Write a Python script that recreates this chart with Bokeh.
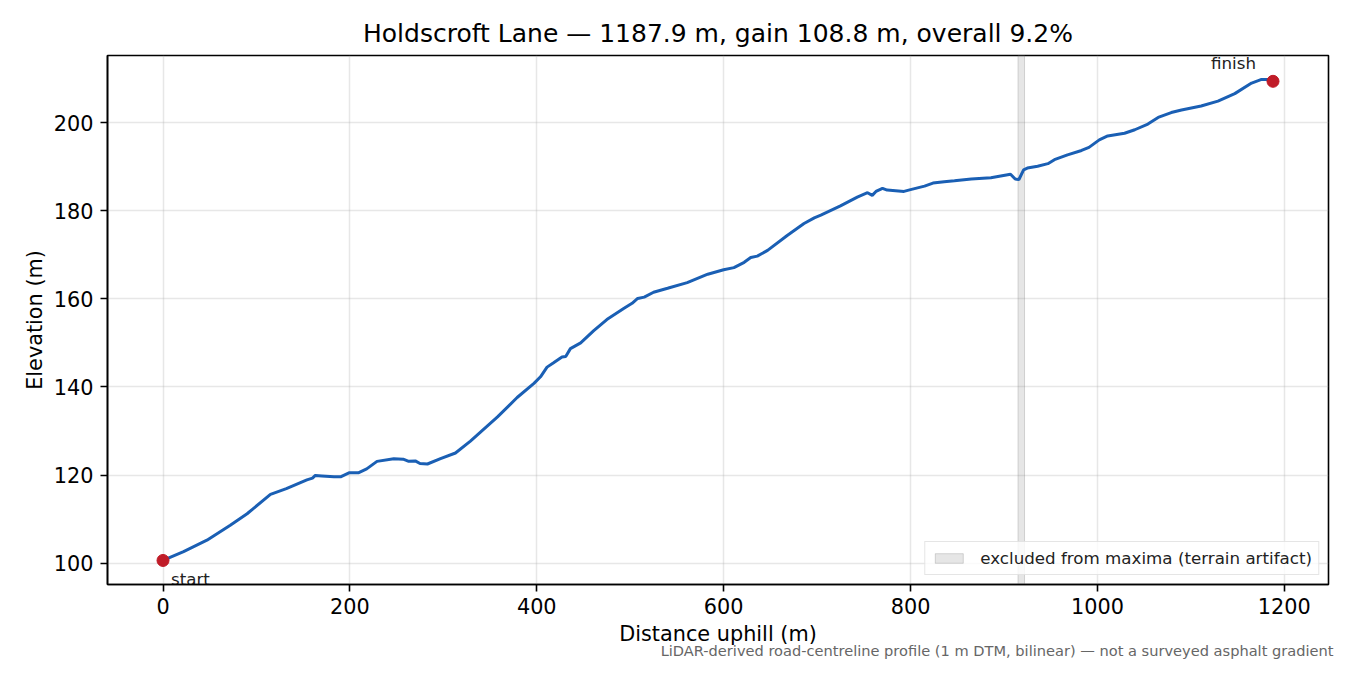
import numpy as np
from bokeh.plotting import figure
from bokeh.models import ColumnDataSource, Range1d, FixedTicker, Legend, LegendItem, Title
from bokeh.core.properties import value
from bokeh.embed import file_html
from bokeh.resources import INLINE

# profile (distance uphill m, elevation m)
distance = [0, 22, 47, 72, 90, 115, 132, 154, 160, 163, 170, 183, 190, 199, 209,
            218, 229, 247, 257, 263, 270, 275, 283, 297, 313, 329, 358, 379, 397,
            404, 411, 418, 427, 431, 436, 447, 461, 475, 493, 502, 508, 515, 525,
            540, 561, 583, 600, 611, 622, 629, 636, 647, 668, 686, 697, 704, 725,
            743, 754, 759, 763, 770, 775, 793, 800, 815, 824, 836, 847, 865, 886,
            907, 912, 916, 921, 925, 936, 947, 954, 968, 983, 991, 1002, 1011,
            1029, 1040, 1054, 1065, 1079, 1090, 1111, 1129, 1147, 1165, 1175,
            1182, 1187.9]
elevation = [100.6, 102.6, 105.2, 108.6, 111.2, 115.6, 116.9, 118.9, 119.3, 119.9,
             119.8, 119.6, 119.6, 120.5, 120.5, 121.4, 123.1, 123.7, 123.6, 123.1,
             123.2, 122.6, 122.5, 123.7, 125.0, 127.7, 133.2, 137.6, 140.8, 142.3,
             144.5, 145.5, 146.8, 146.9, 148.7, 150.0, 152.8, 155.3, 157.8, 159.0,
             160.1, 160.4, 161.5, 162.4, 163.7, 165.6, 166.6, 167.1, 168.3, 169.4,
             169.7, 171.0, 174.4, 177.1, 178.4, 179.0, 181.1, 183.1, 184.1, 183.5,
             184.4, 185.1, 184.7, 184.4, 184.8, 185.6, 186.3, 186.6, 186.8, 187.2,
             187.5, 188.3, 187.2, 187.1, 189.3, 189.7, 190.1, 190.7, 191.6, 192.7,
             193.7, 194.4, 196.1, 197.0, 197.6, 198.4, 199.7, 201.2, 202.3, 202.9,
             203.8, 204.9, 206.6, 209.0, 209.8, 209.8, 209.4]

end_x = [0, 1187.9]
end_y = [100.6, 209.4]
end_names = ["start", "finish"]

excluded_from = [915]
excluded_to = [922]

x_ticks = [0, 200, 400, 600, 800, 1000, 1200]
y_ticks = [100, 120, 140, 160, 180, 200]

title = "Holdscroft Lane \u2014 1187.9 m, gain 108.8 m, overall 9.2%"
note = "LiDAR-derived road-centreline profile (1 m DTM, bilinear) \u2014 not a surveyed asphalt gradient"

FONT = "DejaVu Sans"

# matplotlib-style 5% margins
xmin, xmax = min(distance), max(distance)
ymin, ymax = min(elevation), max(elevation)
xpad = 0.05 * (xmax - xmin)
ypad = 0.05 * (ymax - ymin)
y_lo, y_hi = ymin - ypad, ymax + ypad

p = figure(width=1334, height=659, output_backend="svg", toolbar_location=None,
           x_range=Range1d(xmin - xpad, xmax + xpad), y_range=Range1d(y_lo, y_hi),
           min_border_left=107, min_border_right=6, min_border_top=55, min_border_bottom=75)

p.title.text = title
p.title.text_font = FONT
p.title.text_font_size = "25px"
p.title.text_font_style = "normal"
p.title.text_color = "black"
p.title.align = "center"
p.title.standoff = 15

p.outline_line_color = "black"
p.outline_line_width = 1.6

band = p.quad(left=excluded_from, right=excluded_to, bottom=[y_lo], top=[y_hi],
              fill_color="grey", fill_alpha=0.2, line_color="grey", line_alpha=0.3, line_width=1)

p.line(distance, elevation, line_color="#1a5fb4", line_width=3)

src = ColumnDataSource(dict(x=end_x, y=end_y, name=end_names))
p.scatter("x", "y", source=src, size=12, fill_color="#c01c28", line_color="#c01c28")

p.text(x=end_x[:1], y=end_y[:1], text=end_names[:1], text_font=value(FONT), text_font_size="16.7px",
       text_align="left", text_baseline="top", x_offset=8, y_offset=9, text_color="#222222")
p.text(x=end_x[1:], y=end_y[1:], text=end_names[1:], text_font=value(FONT), text_font_size="16.7px",
       text_align="right", text_baseline="alphabetic", x_offset=-17, y_offset=-18, text_color="#222222")

for ax in (p.xaxis, p.yaxis):
    ax.major_label_text_font = FONT
    ax.major_label_text_font_size = "20.8px"
    ax.major_label_text_color = "black"
    ax.axis_label_text_font = FONT
    ax.axis_label_text_font_size = "20.8px"
    ax.axis_label_text_font_style = "normal"
    ax.axis_label_text_color = "black"
    ax.axis_line_color = "black"
    ax.axis_line_width = 1.6
    ax.major_tick_line_color = "black"
    ax.major_tick_line_width = 1.6
    ax.major_tick_out = 7
    ax.major_tick_in = 0
    ax.minor_tick_line_color = None
    ax.major_label_standoff = 7

p.xaxis.major_label_standoff = 6
p.xaxis.axis_label_standoff = 5
p.yaxis.axis_label_standoff = 4

p.xaxis.ticker = FixedTicker(ticks=x_ticks)
p.yaxis.ticker = FixedTicker(ticks=y_ticks)
p.xaxis.axis_label = "Distance uphill (m)"
p.yaxis.axis_label = "Elevation (m)"

p.grid.grid_line_color = "#b0b0b0"
p.grid.grid_line_alpha = 0.3
p.grid.grid_line_width = 1.5
p.xgrid.ticker = FixedTicker(ticks=x_ticks)
p.ygrid.ticker = FixedTicker(ticks=y_ticks)

legend = Legend(items=[LegendItem(label="excluded from maxima (terrain artifact)", renderers=[band])],
                location="bottom_right")
legend.label_text_font = FONT
legend.label_text_font_size = "16.7px"
legend.label_text_color = "#222222"
legend.glyph_width = 35
legend.glyph_height = 12
legend.label_standoff = 14
legend.padding = 6
legend.margin = 9
legend.spacing = 0
legend.border_line_color = "#cccccc"
legend.border_line_width = 1.5
legend.background_fill_alpha = 0.8
p.add_layout(legend)

p.add_layout(Title(text=note, align="right", vertical_align="bottom", text_font=FONT,
                   text_font_size="14.6px", text_font_style="normal", text_color="#666666",
                   standoff=-18, offset=-5), "below")

open("out.html", "w").write(file_html(p, INLINE))
